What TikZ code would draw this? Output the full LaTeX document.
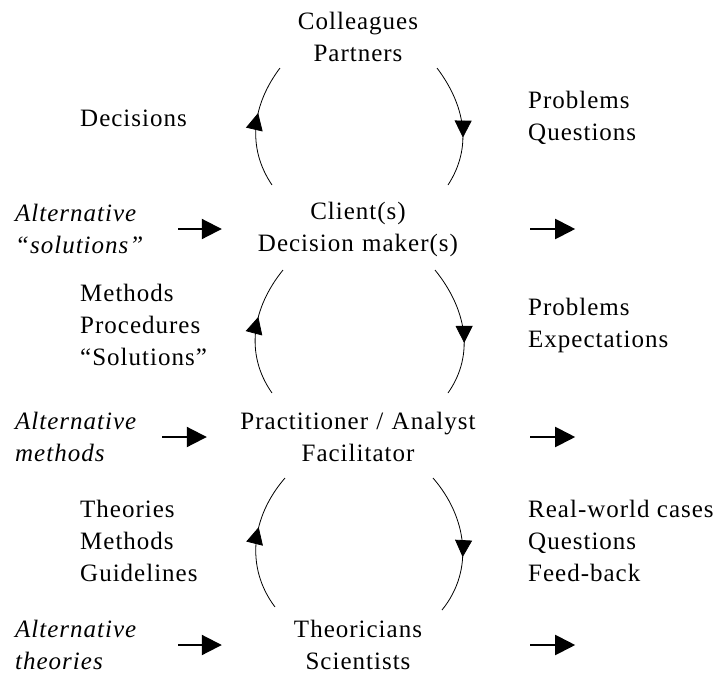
\documentclass[tikz,border=0pt]{standalone}
\usepackage{fontspec}
\setmainfont{Liberation Serif}[LetterSpace=4]
\usetikzlibrary{arrows.meta,decorations.markings}
\tikzset{
  midarrow/.style={
    decoration={
      markings,
      mark=at position 0.6 with {\arrow{Triangle[length=17pt,width=17pt]}}
    },
    postaction={decorate}
  },
  loopline/.style={line width=0.8pt},
  flow/.style={line width=2pt, -{Triangle[length=20pt,width=20pt]}},
  actor/.style={align=center, text width=250pt, inner sep=0pt},
  item/.style={align=left, anchor=west, inner sep=0pt},
  alt/.style={align=left, anchor=west, text width=130pt, inner sep=0pt,
    font=\fontsize{25}{32}\selectfont\itshape}
}

\begin{document}
\begin{tikzpicture}[x=1pt, y=1pt, font=\fontsize{25}{32}\selectfont]
    \useasboundingbox (0,0) rectangle (715,-675);

    % Actors down the middle
    \node[actor] (colleagues) at (358,-37) {Colleagues\\Partners};
    \node[actor] (client) at (358,-229) {Client(s)\\Decision maker(s)};
    \node[actor] (practitioner) at (358,-437) {Practitioner / Analyst\\Facilitator};
    \node[actor] (theoricians) at (358,-645) {Theoricians\\Scientists};

    % What goes up (left) and what comes down (right)
    \node[item] (decisions) at (80,-118) {Decisions};
    \node[item] (tools) at (80,-325) {Methods\\Procedures\\``Solutions''};
    \node[item] (theories) at (80,-541) {Theories\\Methods\\Guidelines};
    \node[item] (problems) at (528,-118) {Problems\\Questions};
    \node[item] (expectations) at (528,-325) {Problems\\Expectations};
    \node[item] (cases) at (528,-541) {Real-world cases\\Questions\\Feed-back};

    % Alternatives coming in from the left
    \node[alt] (altsol) at (15,-229) {Alternative\\``solutions''};
    \node[alt] (altmeth) at (15,-437) {Alternative\\methods};
    \node[alt] (altth) at (15,-645) {Alternative\\theories};

    % In and out arrows
    \coordinate (outsol) at ([xshift=92pt]client.east);
    \coordinate (outmeth) at ([xshift=92pt]practitioner.east);
    \coordinate (outth) at ([xshift=92pt]theoricians.east);
    \draw[flow, shorten <=33pt, shorten >=11pt] (altsol) -- (client);
    \draw[flow, shorten <=17pt, shorten >=26pt] (altmeth) -- (practitioner);
    \draw[flow, shorten <=33pt, shorten >=11pt] (altth) -- (theoricians);
    \draw[flow, shorten <=47pt] (client.east) -- (outsol);
    \draw[flow, shorten <=47pt] (practitioner.east) -- (outmeth);
    \draw[flow, shorten <=47pt] (theoricians.east) -- (outth);

    % Loop colleagues / client
    \draw[loopline, midarrow] ([shift={(-86,44)}]client.center) to[out=124, in=233] ([shift={(-78,-31)}]colleagues.center);
    \draw[loopline, midarrow] ([shift={(79,-31)}]colleagues.center) to[out=-53, in=57] ([shift={(90,44)}]client.center);

    % Loop client / practitioner
    \draw[loopline, midarrow] ([shift={(-86,44)}]practitioner.center) to[out=125, in=231] ([shift={(-75,-41)}]client.center);
    \draw[loopline, midarrow] ([shift={(77,-41)}]client.center) to[out=-51, in=55] ([shift={(90,44)}]practitioner.center);

    % Loop practitioner / theoricians
    \draw[loopline, midarrow] ([shift={(-83,38)}]theoricians.center) to[out=127, in=229] ([shift={(-73,-41)}]practitioner.center);
    \draw[loopline, midarrow] ([shift={(75,-41)}]practitioner.center) to[out=-49, in=51] ([shift={(84,35)}]theoricians.center);

\end{tikzpicture}
\end{document}
